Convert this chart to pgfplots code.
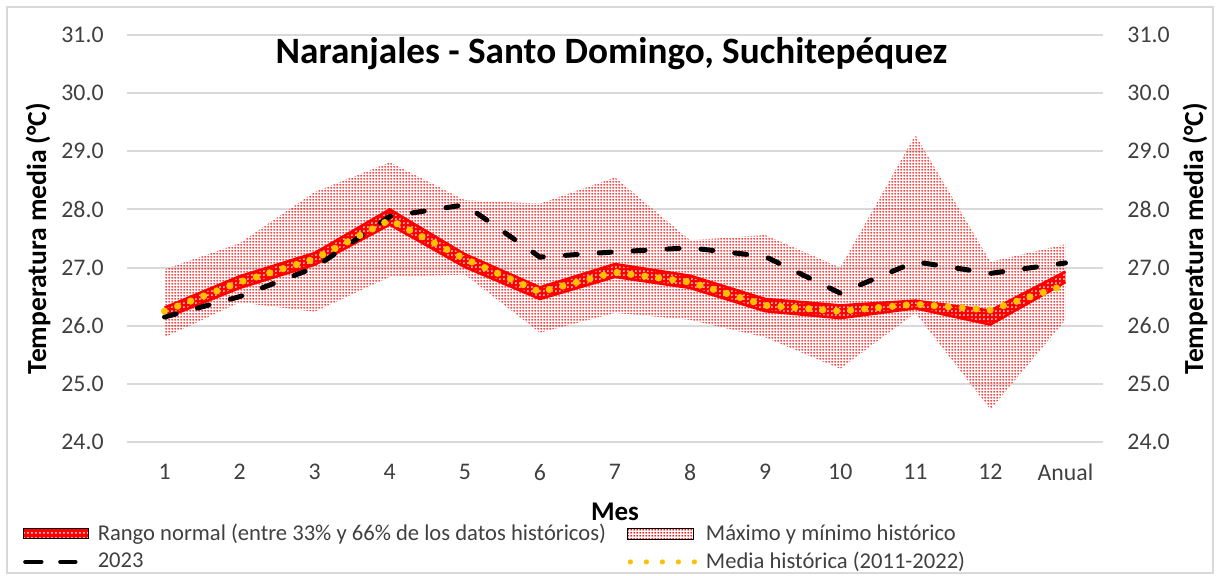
\documentclass[border=0pt]{standalone}
\usepackage{fontspec}
\setmainfont{Carlito}
\usepackage{pgfplots}
\usepackage{pgfplotstable}
\pgfplotsset{compat=1.18}
\usepgfplotslibrary{fillbetween}
\usetikzlibrary{patterns}
\definecolor{gold}{HTML}{FFC000}
\definecolor{gridc}{HTML}{D9D9D9}
\definecolor{txt}{HTML}{404040}
\pgfdeclarepatternformonly{fdots}{\pgfpointorigin}{\pgfpoint{1.5bp}{1.5bp}}{\pgfpoint{1.5bp}{1.5bp}}{\pgfpathcircle{\pgfpoint{0.75bp}{0.75bp}}{0.6bp}\pgfusepath{fill}}
\pgfdeclarepatternformonly{wdots}{\pgfpointorigin}{\pgfpoint{2.2bp}{2.2bp}}{\pgfpoint{2.2bp}{2.2bp}}{\pgfpathcircle{\pgfpoint{1.1bp}{1.1bp}}{0.55bp}\pgfusepath{fill}}
\pgfplotstableread{
x  lo    hi    nlo   nhi   media y23
1  25.80 26.97 26.13 26.31 26.25 26.15
2  26.40 27.42 26.65 26.85 26.75 26.50
3  26.24 28.30 27.05 27.25 27.15 27.00
4  26.84 28.81 27.74 28.00 27.82 27.88
5  26.88 28.16 27.01 27.23 27.15 28.08
6  25.88 28.10 26.46 26.66 26.58 27.18
7  26.22 28.55 26.84 27.06 26.92 27.27
8  26.10 27.47 26.65 26.86 26.75 27.34
9  25.80 27.56 26.25 26.46 26.35 27.19
10 25.26 27.00 26.13 26.35 26.25 26.56
11 26.22 29.28 26.30 26.43 26.37 27.10
12 24.56 27.10 26.02 26.26 26.27 26.90
13 26.10 27.40 26.75 26.93 26.70 27.08
}\data
\begin{document}
\begin{tikzpicture}[x=1bp,y=1bp]
\draw[gridc, line width=1bp] (3.5,0.8) rectangle (606.5,284);
\begin{axis}[
  at={(63.5bp,66.5bp)}, anchor=south west,
  width=488bp, height=203.5bp, scale only axis,
  xmin=0.5, xmax=13.5, ymin=24, ymax=31,
  axis line style={draw=none},
  major tick length=0pt,
  ymajorgrids, grid style={gridc, line width=1bp},
  xtick={1,2,3,4,5,6,7,8,9,10,11,12,13},
  xticklabels={1,2,3,4,5,6,7,8,9,10,11,12,Anual},
  ytick={24,25,26,27,28,29,30,31},
  /pgf/number format/.cd, fixed, fixed zerofill, precision=1, assume math mode=true,
  /pgfplots/.cd,
  tick label style={font=\fontsize{11.9bp}{14bp}\selectfont, text=txt},
  yticklabel style={anchor=east, inner sep=0pt, xshift=-11.5bp},
  xticklabel style={anchor=north, inner sep=0pt, yshift=-11bp},
  xlabel={Mes},
  xlabel style={font=\bfseries\fontsize{13.5bp}{16bp}\selectfont, at={(axis description cs:0.5,-0.172)}, anchor=center},
  ylabel={Temperatura media (°C)},
  ylabel style={font=\bfseries\fontsize{13.8bp}{16bp}\selectfont, at={(axis description cs:-0.0912,0.5)}, anchor=center},
  legend columns=2,
  legend cell align=left,
  legend style={draw=none, fill=none, inner sep=0pt, outer sep=0pt,
    at={(axis description cs:-0.1066,-0.2015)}, anchor=north west,
    font=\fontsize{11.3bp}{13bp}\selectfont, text=txt,
    row sep=4.3bp, nodes={inner sep=0pt},
    /tikz/every odd column/.append style={column sep=4.5bp},
    /tikz/every even column/.append style={column sep=10.5bp}},
]
% max/min band
\addplot[name path=lo, draw=none, forget plot] table[x=x,y=lo]{\data};
\addplot[name path=hi, draw=none, forget plot] table[x=x,y=hi]{\data};
\addplot[pattern=fdots, pattern color=red, draw=none, forget plot] fill between[of=hi and lo];
% normal range band
\addplot[name path=nlo, draw=red, line width=1.3bp, forget plot] table[x=x,y=nlo]{\data};
\addplot[name path=nhi, draw=red, line width=1.3bp, forget plot] table[x=x,y=nhi]{\data};
\addplot[fill=red, draw=none, forget plot] fill between[of=nhi and nlo];
\addplot[pattern=wdots, pattern color=white, draw=none, forget plot] fill between[of=nhi and nlo];
% 2023
\addplot[black, line width=2.5bp, line cap=round, dash pattern=on 6bp off 11bp, forget plot] table[x=x,y=y23]{\data};
% media
\addplot[gold, line width=3.6bp, line cap=round, dash pattern=on 0bp off 7bp, forget plot] table[x=x,y=media]{\data};
% legend
\addlegendimage{legend image code/.code={
  \fill[red] (0bp,-2.5bp) rectangle (32.5bp,2.5bp);
  \fill[pattern=wdots, pattern color=white] (0bp,-2.5bp) rectangle (32.5bp,2.5bp);}}
\addlegendentry{Rango normal (entre 33\% y 66\% de los datos históricos)}
\addlegendimage{legend image code/.code={
  \fill[pattern=fdots, pattern color=red] (0bp,-2.7bp) rectangle (33bp,2.7bp);}}
\addlegendentry{Máximo y mínimo histórico}
\addlegendimage{legend image code/.code={
  \draw[black, line width=2.2bp, line cap=round, dash pattern=on 8bp off 9.5bp] (1bp,0bp) -- (26bp,0bp);}}
\addlegendentry{2023}
\addlegendimage{legend image code/.code={
  \draw[gold, line width=2.6bp, line cap=round, dash pattern=on 0bp off 8bp] (1.5bp,0bp) -- (33.5bp,0bp);}}
\addlegendentry{Media histórica (2011-2022)}
\end{axis}
\begin{axis}[
  at={(63.5bp,66.5bp)}, anchor=south west,
  width=488bp, height=203.5bp, scale only axis,
  xmin=0.5, xmax=13.5, ymin=24, ymax=31,
  hide x axis,
  axis y line*=right,
  y axis line style={draw=none},
  major tick length=0pt,
  ytick={24,25,26,27,28,29,30,31},
  /pgf/number format/.cd, fixed, fixed zerofill, precision=1, assume math mode=true,
  /pgfplots/.cd,
  tick label style={font=\fontsize{11.9bp}{14bp}\selectfont, text=txt},
  yticklabel style={anchor=west, inner sep=0pt, xshift=12bp},
  ylabel={Temperatura media (°C)},
  ylabel style={font=\bfseries\fontsize{13.8bp}{16bp}\selectfont, at={(axis description cs:1.0943,0.5)}, anchor=center, rotate=0},
]
\end{axis}
\node[anchor=base, font=\bfseries\fontsize{18.6bp}{22bp}\selectfont] at (305.75,256) {Naranjales - Santo Domingo, Suchitepéquez};
\pgfresetboundingbox
\path[use as bounding box] (0,0) rectangle (609.5,287.5);
\end{tikzpicture}
\end{document}
